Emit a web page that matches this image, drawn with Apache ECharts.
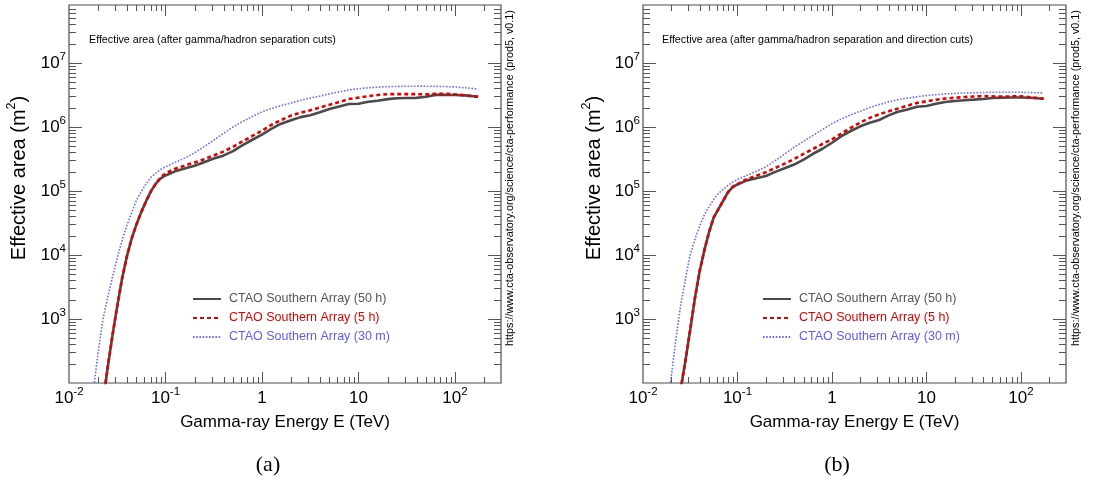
<!DOCTYPE html>
<html>
<head>
<meta charset="utf-8">
<script src="https://cdn.jsdelivr.net/npm/echarts@6/dist/echarts.min.js"></script>
<style>
  html, body { margin: 0; padding: 0; background: #ffffff; }
  #chart { width: 1094px; height: 482px; }
</style>
</head>
<body>
<div id="chart"></div>
<script>
// Gamma-ray energy grid shared by all curves (TeV)
const energyTeV = [0.0158, 0.0178, 0.0200, 0.0224, 0.0251, 0.0282, 0.0316, 0.0355, 0.0398, 0.0447,
  0.0501, 0.0562, 0.0631, 0.0708, 0.0794, 0.0891, 0.100, 0.126, 0.158, 0.200,
  0.251, 0.316, 0.398, 0.501, 0.631, 0.794, 1.00, 1.26, 1.58, 2.00,
  2.51, 3.16, 3.98, 5.01, 6.31, 7.94, 10.0, 12.6, 15.8, 20.0,
  25.1, 31.6, 39.8, 50.1, 63.1, 79.4, 100, 126, 174];

// (a) effective area after gamma/hadron separation cuts (m^2)
const ghCut50h = [null, null, null, 47, 170, 550, 1580, 4300, 9500, 18200,
  30200, 47000, 69700, 99300, 130000, 157000, 174000, 202000, 223000, 247000,
  281000, 320000, 355000, 418000, 518000, 629000, 759000, 940000, 1.12e6, 1.27e6,
  1.42e6, 1.52e6, 1.69e6, 1.90e6, 2.08e6, 2.27e6, 2.29e6, 2.47e6, 2.56e6, 2.71e6,
  2.80e6, 2.82e6, 2.84e6, 2.96e6, 3.16e6, 3.16e6, 3.15e6, 3.10e6, 2.95e6];
const ghCut5h = [null, null, null, 47, 170, 550, 1580, 4300, 9500, 18200,
  30200, 47000, 69700, 99300, 130000, 163000, 188000, 222000, 248000, 277000,
  312000, 357000, 411000, 487000, 594000, 722000, 871000, 1.08e6, 1.28e6, 1.50e6,
  1.67e6, 1.81e6, 2.01e6, 2.22e6, 2.44e6, 2.72e6, 2.86e6, 3.01e6, 3.14e6, 3.24e6,
  3.24e6, 3.24e6, 3.24e6, 3.22e6, 3.27e6, 3.28e6, 3.21e6, 3.11e6, 2.95e6];
const ghCut30m = [null, 72, 295, 955, 2140, 4470, 8970, 16800, 28800, 46500,
  71800, 97700, 129000, 164000, 190000, 216000, 237000, 279000, 326000, 393000,
  491000, 618000, 789000, 995000, 1.21e6, 1.45e6, 1.72e6, 1.94e6, 2.15e6, 2.36e6,
  2.60e6, 2.82e6, 3.02e6, 3.28e6, 3.53e6, 3.76e6, 3.95e6, 4.07e6, 4.17e6, 4.24e6,
  4.28e6, 4.31e6, 4.32e6, 4.32e6, 4.29e6, 4.27e6, 4.20e6, 4.09e6, 3.89e6];

// (b) effective area after gamma/hadron separation and direction cuts (m^2)
const dirCut50h = [null, null, null, 29, 81, 229, 682, 2140, 5620, 12000,
  22900, 38900, 52500, 70800, 95500, 115000, 126000, 146000, 157000, 171000,
  198000, 226000, 258000, 308000, 380000, 455000, 565000, 715000, 862000, 1.02e6,
  1.16e6, 1.28e6, 1.51e6, 1.72e6, 1.87e6, 2.06e6, 2.12e6, 2.30e6, 2.44e6, 2.53e6,
  2.60e6, 2.66e6, 2.73e6, 2.82e6, 2.86e6, 2.88e6, 2.88e6, 2.85e6, 2.75e6];
const dirCut5h = [null, null, null, 29, 81, 229, 682, 2140, 5620, 12000,
  22900, 38900, 52500, 70800, 95500, 116000, 128000, 153000, 172000, 196000,
  228000, 267000, 315000, 378000, 452000, 540000, 640000, 785000, 966000, 1.17e6,
  1.38e6, 1.57e6, 1.75e6, 1.93e6, 2.15e6, 2.36e6, 2.51e6, 2.65e6, 2.77e6, 2.85e6,
  2.92e6, 2.98e6, 3.02e6, 2.99e6, 2.97e6, 2.99e6, 3.01e6, 2.89e6, 2.75e6];
const dirCut30m = [null, 33, 132, 513, 1680, 4310, 10100, 17800, 28300, 42700,
  56900, 73800, 91400, 106000, 122000, 137000, 151000, 175000, 202000, 238000,
  297000, 377000, 481000, 594000, 735000, 910000, 1.12e6, 1.33e6, 1.54e6, 1.76e6,
  2.00e6, 2.23e6, 2.45e6, 2.66e6, 2.81e6, 2.95e6, 3.09e6, 3.18e6, 3.27e6, 3.32e6,
  3.38e6, 3.41e6, 3.44e6, 3.47e6, 3.47e6, 3.47e6, 3.47e6, 3.43e6, 3.39e6];

// Axis ranges and tick positions
const X_RANGE = [0.01, 300];
const Y_RANGE = [100, 8e7];
const xMajorTicks = [0.1, 1, 10, 100];
const xMinorTicks = [0.02, 0.03, 0.04, 0.05, 0.06, 0.07, 0.08, 0.09,
  0.2, 0.3, 0.4, 0.5, 0.6, 0.7, 0.8, 0.9,
  2, 3, 4, 5, 6, 7, 8, 9,
  20, 30, 40, 50, 60, 70, 80, 90, 200];
const yMajorTicks = [1e3, 1e4, 1e5, 1e6, 1e7];
const yMinorTicks = [200, 300, 400, 500, 600, 700, 800, 900,
  2e3, 3e3, 4e3, 5e3, 6e3, 7e3, 8e3, 9e3,
  2e4, 3e4, 4e4, 5e4, 6e4, 7e4, 8e4, 9e4,
  2e5, 3e5, 4e5, 5e5, 6e5, 7e5, 8e5, 9e5,
  2e6, 3e6, 4e6, 5e6, 6e6, 7e6, 8e6, 9e6,
  2e7, 3e7, 4e7, 5e7, 6e7, 7e7];
// Decade tick labels (exponent -> rich text)
const xTickLabels = { '-2': '{b|10}{sup|-2}', '-1': '{b|10}{sup|-1}', '0': '{b|1}', '1': '{b|10}', '2': '{b|10}{sup|2}' };
const yTickLabels = { '3': '{b|10}{sup|3}', '4': '{b|10}{sup|4}', '5': '{b|10}{sup|5}', '6': '{b|10}{sup|6}', '7': '{b|10}{sup|7}' };

const seriesNames = ['CTAO Southern Array (50 h)', 'CTAO Southern Array (5 h)', 'CTAO Southern Array (30 m)'];
const xTitle = 'Gamma-ray Energy E (TeV)';
const panelTitles = ['Effective area (after gamma/hadron separation cuts)',
  'Effective area (after gamma/hadron separation and direction cuts)'];
const captions = ['(a)', '(b)'];
const creditText = 'https://www.cta-observatory.org/science/cta-performance (prod5, v0.1)';

const FONT = '"Liberation Sans", Arial, Helvetica, sans-serif';
const SERIF = '"Liberation Serif", "DejaVu Serif", serif';
const TICK_COLOR = '#555555';
const lineStyles = [
  { color: '#4a4a4a', width: 2.6, type: 'solid' },
  { color: '#e00000', width: 2.6, type: [4, 3] },
  { color: '#6a6aff', width: 1.6, type: [1.6, 1.6] }
];
const legendTextColors = ['#555555', '#e00000', '#5b5bff'];

const panels = [
  { grid: { left: 69, top: 5, width: 432, height: 378 }, curves: [ghCut50h, ghCut5h, ghCut30m],
    titleAt: [89, 40], legendAt: [192, 292], yTitleAt: [19, 178], creditAt: [510, 178], captionAt: [268, 465] },
  { grid: { left: 643, top: 5, width: 423, height: 378 }, curves: [dirCut50h, dirCut5h, dirCut30m],
    titleAt: [662, 40], legendAt: [762, 292], yTitleAt: [594, 178], creditAt: [1076, 178], captionAt: [837, 465] }
];

function exponentOf(v) {
  const l = Math.log10(v);
  const e = Math.round(l);
  return Math.abs(l - e) < 1e-6 ? String(e) : null;
}

const labelRich = {
  b: { fontSize: 17, fontFamily: FONT, color: '#000', lineHeight: 25, verticalAlign: 'middle' },
  sup: { fontSize: 11.5, fontFamily: FONT, color: '#000', lineHeight: 10, verticalAlign: 'top' }
};

// Tick marks drawn inward on all four sides of a frame
function xTickSeries(p) {
  return {
    type: 'custom', xAxisIndex: p, yAxisIndex: p, silent: true, z: 4,
    data: xMajorTicks.map(v => [v, 1]).concat(xMinorTicks.map(v => [v, 2])),
    renderItem: (params, api) => {
      const v = api.value(0);
      const len = api.value(1) === 1 ? 11 : 6;
      const b = api.coord([v, Y_RANGE[0]]);
      const t = api.coord([v, Y_RANGE[1]]);
      const x = Math.round(b[0]) + 0.5;
      const st = { stroke: TICK_COLOR, lineWidth: 1 };
      return { type: 'group', children: [
        { type: 'line', shape: { x1: x, y1: b[1], x2: x, y2: b[1] - len }, style: st },
        { type: 'line', shape: { x1: x, y1: t[1], x2: x, y2: t[1] + len }, style: st }
      ] };
    }
  };
}
function yTickSeries(p) {
  return {
    type: 'custom', xAxisIndex: p, yAxisIndex: p, silent: true, z: 4,
    data: yMajorTicks.map(v => [1, v]).concat(yMinorTicks.map(v => [2, v])),
    renderItem: (params, api) => {
      const v = api.value(1);
      const len = api.value(0) === 1 ? 13 : 7;
      const l = api.coord([X_RANGE[0], v]);
      const r = api.coord([X_RANGE[1], v]);
      const y = Math.round(l[1]) + 0.5;
      const st = { stroke: TICK_COLOR, lineWidth: 1 };
      return { type: 'group', children: [
        { type: 'line', shape: { x1: l[0], y1: y, x2: l[0] + len, y2: y }, style: st },
        { type: 'line', shape: { x1: r[0], y1: y, x2: r[0] - len, y2: y }, style: st }
      ] };
    }
  };
}

const option = {
  animation: false,
  backgroundColor: '#ffffff',
  grid: panels.map(p => Object.assign({ show: true, borderColor: '#4d4d4d', borderWidth: 1.2, backgroundColor: 'transparent' }, p.grid)),
  xAxis: panels.map((p, i) => ({
    type: 'log', logBase: 10, gridIndex: i, min: X_RANGE[0], max: X_RANGE[1],
    axisLine: { show: false }, axisTick: { show: false }, splitLine: { show: false },
    axisLabel: {
      margin: 3, showMinLabel: true, showMaxLabel: true, rich: labelRich,
      formatter: v => { const e = exponentOf(v); return e !== null && xTickLabels[e] ? xTickLabels[e] : ''; }
    },
    name: xTitle, nameLocation: 'middle', nameGap: 31,
    nameTextStyle: { fontSize: 17, fontFamily: FONT, color: '#000' }
  })),
  yAxis: panels.map((p, i) => ({
    type: 'log', logBase: 10, gridIndex: i, min: Y_RANGE[0], max: Y_RANGE[1],
    axisLine: { show: false }, axisTick: { show: false }, splitLine: { show: false },
    axisLabel: {
      margin: 3, rich: labelRich,
      formatter: v => { const e = exponentOf(v); return e !== null && yTickLabels[e] ? yTickLabels[e] : ''; }
    }
  })),
  legend: panels.map(p => ({
    left: p.legendAt[0], top: p.legendAt[1], orient: 'vertical', padding: 0,
    itemWidth: 28, itemHeight: 14, itemGap: 5, selectedMode: false,
    itemStyle: { opacity: 0 },
    textStyle: { fontSize: 12.5, fontFamily: FONT, lineHeight: 14, padding: [0, 0, 0, 3] },
    data: seriesNames.map((n, k) => ({ name: n, textStyle: { color: legendTextColors[k] } }))
  })),
  graphic: [].concat(...panels.map((p, i) => [
    { type: 'text', x: p.titleAt[0], y: p.titleAt[1],
      style: { text: panelTitles[i], font: '10.7px ' + FONT, fill: '#000', verticalAlign: 'middle' } },
    { type: 'text', x: p.yTitleAt[0], y: p.yTitleAt[1], rotation: Math.PI / 2,
      style: { text: '{t|Effective area (m}{s|2}{t|)}', align: 'center', verticalAlign: 'middle',
        rich: { t: { fontSize: 20, fontFamily: FONT, fill: '#000', lineHeight: 27 },
                s: { fontSize: 12.5, fontFamily: FONT, fill: '#000', lineHeight: 12, verticalAlign: 'top' } } } },
    { type: 'text', x: p.creditAt[0], y: p.creditAt[1], rotation: Math.PI / 2,
      style: { text: creditText, font: '10.8px ' + FONT, fill: '#000', align: 'center', verticalAlign: 'middle' } },
    { type: 'text', x: p.captionAt[0], y: p.captionAt[1],
      style: { text: captions[i], font: '22px ' + SERIF, fill: '#000', align: 'center', verticalAlign: 'middle' } }
  ])),
  series: [].concat(...panels.map((p, i) => p.curves.map((arr, k) => ({
    type: 'line', name: seriesNames[k], xAxisIndex: i, yAxisIndex: i,
    data: energyTeV.map((e, j) => [e, arr[j]]),
    symbol: 'none', clip: true, z: 3,
    lineStyle: { color: lineStyles[k].color, width: lineStyles[k].width, type: lineStyles[k].type },
    itemStyle: { color: lineStyles[k].color }
  }))), panels.map((p, i) => xTickSeries(i)), panels.map((p, i) => yTickSeries(i)))
};

const chart = echarts.init(document.getElementById('chart'), null, { renderer: 'canvas' });
chart.setOption(option);
</script>
</body>
</html>
